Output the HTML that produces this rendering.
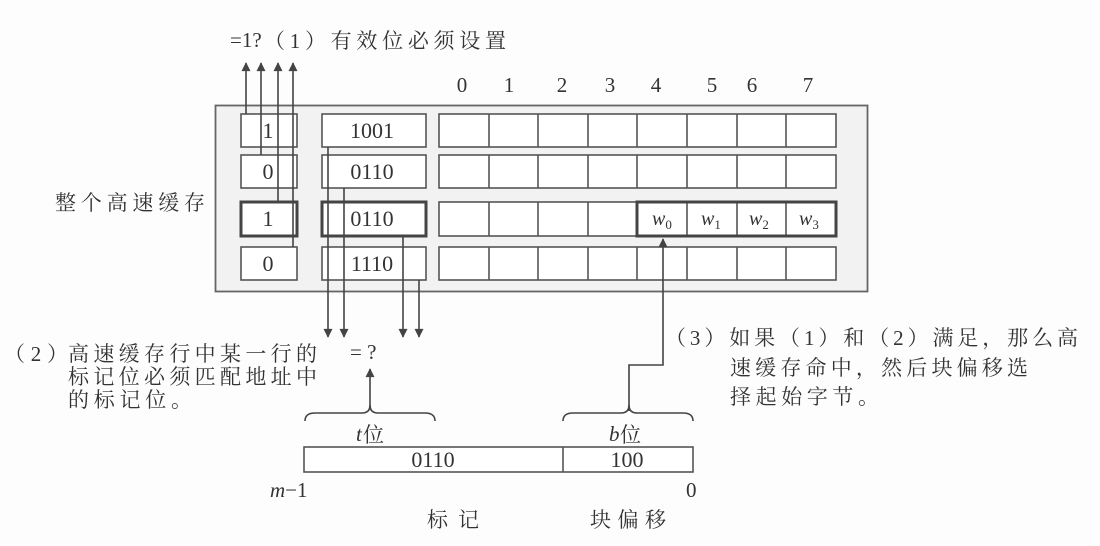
<!DOCTYPE html>
<html>
<head>
<meta charset="utf-8">
<style>
html,body{margin:0;padding:0;background:#fff;}
svg{display:block;}
.cn{font-family:"Liberation Serif","Noto Serif CJK SC",serif;fill:#333;}
.num{font-family:"Liberation Serif",serif;fill:#333;}
</style>
</head>
<body>
<svg width="1100" height="546" viewBox="0 0 1100 546" xmlns="http://www.w3.org/2000/svg">
<defs>
<marker id="ah" viewBox="0 0 10 10" refX="9" refY="5" markerWidth="10" markerHeight="9" markerUnits="userSpaceOnUse" orient="auto">
<path d="M0,0 L10,5 L0,10 z" fill="#444"/>
</marker>
</defs>
<rect x="0" y="0" width="1100" height="546" fill="#fdfdfd"/>

<!-- top label -->
<text class="num" x="230" y="47" font-size="21">=1?</text>
<text class="cn" x="264" y="48" font-size="21" textLength="242" lengthAdjust="spacing">（1）有效位必须设置</text>

<!-- column labels -->
<g class="num" font-size="21" text-anchor="middle">
<text x="462" y="92">0</text><text x="509" y="92">1</text><text x="562" y="92">2</text><text x="610" y="92">3</text>
<text x="656" y="92">4</text><text x="712" y="92">5</text><text x="752" y="92">6</text><text x="808" y="92">7</text>
</g>

<!-- outer cache box -->
<rect x="215.5" y="105.5" width="652" height="186" fill="#f2f2f2" stroke="#666" stroke-width="1.8"/>

<!-- 整个高速缓存 -->
<text class="cn" x="55" y="210" font-size="21" textLength="150" lengthAdjust="spacing">整个高速缓存</text>

<!-- valid / tag boxes -->
<g fill="#fff" stroke="#555" stroke-width="1.6">
<rect x="241" y="114" width="56" height="33"/>
<rect x="241" y="155" width="56" height="33"/>
<rect x="241" y="247" width="56" height="33"/>
<rect x="322" y="114" width="104" height="33"/>
<rect x="322" y="155" width="104" height="33"/>
<rect x="322" y="247" width="104" height="33"/>
</g>
<g fill="#fff" stroke="#444" stroke-width="3">
<rect x="241" y="202" width="56" height="34"/>
<rect x="322" y="202" width="104" height="34"/>
</g>

<!-- data cells -->
<g fill="#fff" stroke="#555" stroke-width="1.6">
<rect x="439" y="114" width="397" height="33"/>
<rect x="439" y="155" width="397" height="33"/>
<rect x="439" y="202" width="397" height="34"/>
<rect x="439" y="247" width="397" height="33"/>
</g>
<g stroke="#555" stroke-width="1.6">
<line x1="489" y1="114" x2="489" y2="147"/><line x1="538" y1="114" x2="538" y2="147"/><line x1="588" y1="114" x2="588" y2="147"/><line x1="637" y1="114" x2="637" y2="147"/><line x1="687" y1="114" x2="687" y2="147"/><line x1="737" y1="114" x2="737" y2="147"/><line x1="786" y1="114" x2="786" y2="147"/>
<line x1="489" y1="155" x2="489" y2="188"/><line x1="538" y1="155" x2="538" y2="188"/><line x1="588" y1="155" x2="588" y2="188"/><line x1="637" y1="155" x2="637" y2="188"/><line x1="687" y1="155" x2="687" y2="188"/><line x1="737" y1="155" x2="737" y2="188"/><line x1="786" y1="155" x2="786" y2="188"/>
<line x1="489" y1="202" x2="489" y2="236"/><line x1="538" y1="202" x2="538" y2="236"/><line x1="588" y1="202" x2="588" y2="236"/><line x1="687" y1="202" x2="687" y2="236"/><line x1="737" y1="202" x2="737" y2="236"/><line x1="786" y1="202" x2="786" y2="236"/>
<line x1="489" y1="247" x2="489" y2="280"/><line x1="538" y1="247" x2="538" y2="280"/><line x1="588" y1="247" x2="588" y2="280"/><line x1="637" y1="247" x2="637" y2="280"/><line x1="687" y1="247" x2="687" y2="280"/><line x1="737" y1="247" x2="737" y2="280"/><line x1="786" y1="247" x2="786" y2="280"/>
</g>
<rect x="637" y="202" width="199" height="34" fill="none" stroke="#444" stroke-width="3"/>

<!-- w labels -->
<g class="num" font-size="20" font-style="italic">
<text x="652" y="225">w<tspan font-size="13" dy="4" font-style="normal">0</tspan></text>
<text x="701" y="225">w<tspan font-size="13" dy="4" font-style="normal">1</tspan></text>
<text x="749" y="225">w<tspan font-size="13" dy="4" font-style="normal">2</tspan></text>
<text x="799" y="225">w<tspan font-size="13" dy="4" font-style="normal">3</tspan></text>
</g>

<!-- up arrows (valid bits) -->
<g stroke="#444" stroke-width="1.6" fill="none" marker-end="url(#ah)">
<line x1="246" y1="114" x2="246" y2="63"/>
<line x1="261" y1="155" x2="261" y2="63"/>
<line x1="278" y1="202" x2="278" y2="63"/>
<line x1="293" y1="247" x2="293" y2="63"/>
</g>

<!-- down arrows (tags) -->
<g stroke="#444" stroke-width="1.6" fill="none" marker-end="url(#ah)">
<line x1="328" y1="147" x2="328" y2="337"/>
<line x1="344" y1="188" x2="344" y2="337"/>
<line x1="403" y1="236" x2="403" y2="337"/>
<line x1="419" y1="280" x2="419" y2="337"/>
</g>

<!-- box texts -->
<g class="num" font-size="22" text-anchor="middle">
<text x="268" y="138">1</text>
<text x="268" y="179">0</text>
<text x="268" y="226">1</text>
<text x="268" y="271">0</text>
<text x="372" y="138">1001</text>
<text x="372" y="179">0110</text>
<text x="372" y="226">0110</text>
<text x="372" y="271">1110</text>
</g>

<!-- = ? -->
<text class="num" x="350" y="359" font-size="21">= ?</text>
<line x1="370" y1="407" x2="370" y2="369" stroke="#444" stroke-width="1.6" marker-end="url(#ah)"/>

<!-- w0 arrow -->
<polyline points="629,411 629,365 663,365 663,239" fill="none" stroke="#444" stroke-width="1.6" marker-end="url(#ah)"/>

<!-- braces -->
<path d="M305,421 Q305,413 315,413 L362,413 Q370,413 370,405 Q370,413 378,413 L425,413 Q435,413 435,421" fill="none" stroke="#444" stroke-width="1.6"/>
<path d="M563,421 Q563,413 573,413 L621,413 Q629,413 629,405 Q629,413 637,413 L683,413 Q693,413 693,421" fill="none" stroke="#444" stroke-width="1.6"/>

<!-- t位 b位 -->
<text class="num" x="356" y="441" font-size="21" font-style="italic">t</text>
<text class="cn" x="363" y="442" font-size="21">位</text>
<text class="num" x="609" y="441" font-size="21" font-style="italic">b</text>
<text class="cn" x="620" y="442" font-size="21">位</text>

<!-- address bar -->
<rect x="304" y="447" width="389" height="25" fill="#fff" stroke="#555" stroke-width="1.6"/>
<line x1="563" y1="447" x2="563" y2="472" stroke="#555" stroke-width="1.6"/>
<text class="num" x="433" y="467" font-size="22" text-anchor="middle">0110</text>
<text class="num" x="627" y="467" font-size="22" text-anchor="middle">100</text>

<text class="num" x="270" y="497" font-size="21"><tspan font-style="italic">m</tspan>−1</text>
<text class="num" x="686" y="497" font-size="21">0</text>

<text class="cn" x="427" y="527" font-size="21" textLength="52" lengthAdjust="spacing">标记</text>
<text class="cn" x="590" y="527" font-size="21" textLength="76" lengthAdjust="spacing">块偏移</text>

<!-- (2) text -->
<text class="cn" x="4" y="361" font-size="21" textLength="64" lengthAdjust="spacing">（2）</text>
<text class="cn" x="68" y="361" font-size="21" textLength="249" lengthAdjust="spacing">高速缓存行中某一行的</text>
<text class="cn" x="68" y="384" font-size="21" textLength="249" lengthAdjust="spacing">标记位必须匹配地址中</text>
<text class="cn" x="68" y="407" font-size="21" textLength="124" lengthAdjust="spacing">的标记位。</text>

<!-- (3) text -->
<text class="cn" x="665" y="345" font-size="21" textLength="413" lengthAdjust="spacing">（3）如果（1）和（2）满足，那么高</text>
<text class="cn" x="730" y="375" font-size="21" textLength="298" lengthAdjust="spacing">速缓存命中，然后块偏移选</text>
<text class="cn" x="730" y="404" font-size="21" textLength="149" lengthAdjust="spacing">择起始字节。</text>
</svg>
</body>
</html>
